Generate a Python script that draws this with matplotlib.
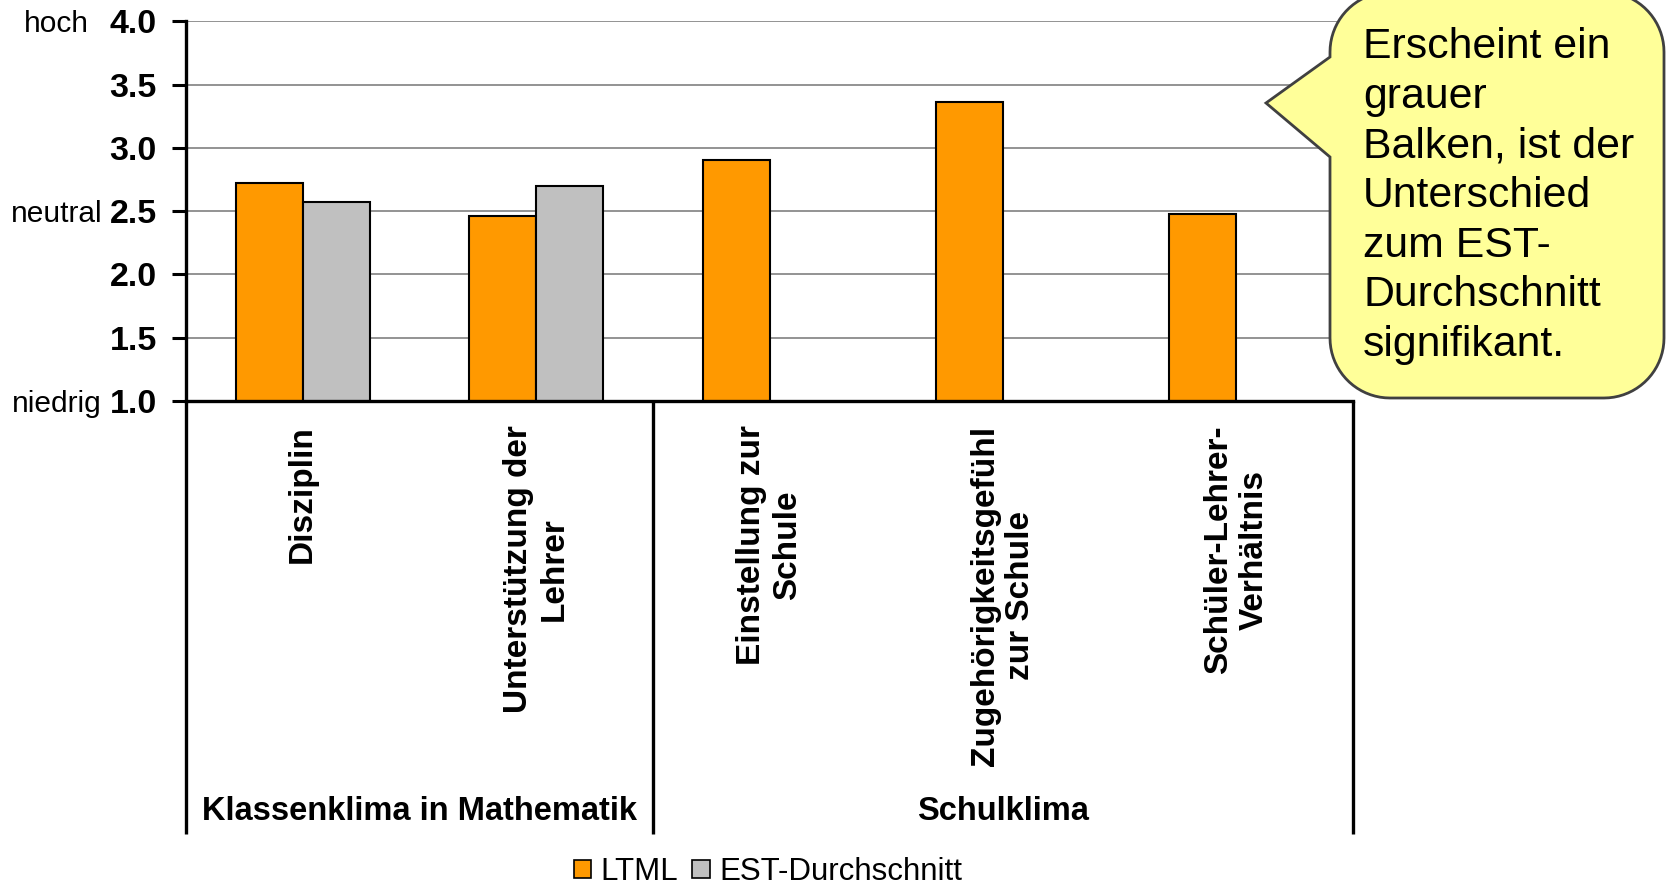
import numpy as np
import matplotlib
matplotlib.use("Agg")
import matplotlib.pyplot as plt
from matplotlib.patches import Polygon, Patch
import matplotlib.transforms as mtransforms

plt.rcParams['font.family'] = ['Liberation Sans', 'DejaVu Sans']

# ---- data ----
categories = ["Disziplin", "Unterstützung der\nLehrer", "Einstellung zur\nSchule",
              "Zugehörigkeitsgefühl\nzur Schule", "Schüler-Lehrer-\nVerhältnis"]
groups = ["Klassenklima in Mathematik", "Schulklima"]
group_sizes = [2, 3]
ltml = [2.72, 2.46, 2.90, 3.36, 2.48]
est = [2.57, 2.70, np.nan, np.nan, np.nan]
series_names = ["LTML", "EST-Durchschnitt"]
yticks = [1.0, 1.5, 2.0, 2.5, 3.0, 3.5, 4.0]
side_labels = {4.0: "hoch", 2.5: "neutral", 1.0: "niedrig"}
callout_text = "Erscheint ein\ngrauer\nBalken, ist der\nUnterschied\nzum EST-\nDurchschnitt\nsignifikant."

W, H = 1667, 888
fig = plt.figure(figsize=(W / 100, H / 100), dpi=100)
ax = fig.add_axes([186 / W, 1 - 400.8 / H, (1353 - 186) / W, (400.8 - 21.3) / H])

c_orange = "#FF9900"
c_gray = "#C0C0C0"
x = np.arange(len(categories)) + 0.5
w = 0.287
ax.bar(x - w / 2, ltml, width=w, color=c_orange, edgecolor="black", linewidth=1.5, zorder=3)
ax.bar(x + w / 2, est, width=w, color=c_gray, edgecolor="black", linewidth=1.5, zorder=3)

ax.set_xlim(0, len(categories))
ax.set_ylim(1, 4)
ax.set_yticks(yticks)
ax.set_yticklabels([f"{v:.1f}" for v in yticks], fontsize=24.5, fontweight="bold")
ax.tick_params(axis="y", length=10, width=2.2, pad=11)
ax.set_xticks([])
for v in yticks[1:]:
    ax.axhline(v, color="#808080", lw=1.2, zorder=1)
for s in ["top", "right"]:
    ax.spines[s].set_visible(False)
for s in ["left", "bottom"]:
    ax.spines[s].set_linewidth(2.4)
    ax.spines[s].set_zorder(4)

# side labels
tr_side = mtransforms.blended_transform_factory(fig.transFigure, ax.transData)
for v, lab in side_labels.items():
    ax.text(56.5 / W, v, lab, transform=tr_side, ha="center", va="center_baseline", fontsize=21.5)

# category labels
tr = mtransforms.blended_transform_factory(ax.transData, ax.transAxes)
for xi, lab in zip(x, categories):
    ax.text(xi, -0.065, lab, transform=tr, rotation=90, ha="center", va="top",
            multialignment="center", fontsize=24, fontweight="bold")

# group separators & labels
bottom_frac = -(834 - 400.8) / (400.8 - 21.3)
label_frac = -(811 - 400.8) / (400.8 - 21.3)
edges = np.concatenate([[0], np.cumsum(group_sizes)])
for e in edges:
    ax.plot([e, e], [0, bottom_frac], transform=tr, color="black", lw=2.4, clip_on=False,
            solid_capstyle="butt", zorder=4)
for i, g in enumerate(groups):
    ax.text((edges[i] + edges[i + 1]) / 2, label_frac, g, transform=tr, ha="center",
            va="center", fontsize=23.5, fontweight="bold")

# legend
handles = [Patch(facecolor=c_orange, edgecolor="black", lw=1.2),
           Patch(facecolor=c_gray, edgecolor="black", lw=1.2)]
fig.legend(handles, series_names, loc="center", bbox_to_anchor=(768 / W, 1 - 872 / H), ncol=2,
           frameon=False, fontsize=22.5, handlelength=0.55, handleheight=0.55,
           handletextpad=0.3, columnspacing=0.45, borderpad=0.1)

# callout
r = 60
L, R, T, B = 1330, 1664, -8, 398
pts = []
def arc(cx, cy, a0, a1):
    for a in np.linspace(np.radians(a0), np.radians(a1), 20):
        pts.append((cx + r * np.cos(a), cy + r * np.sin(a)))
arc(L + r, T + r, 180, 270)
arc(R - r, T + r, 270, 360)
arc(R - r, B - r, 0, 90)
arc(L + r, B - r, 90, 180)
pts += [(L, 157), (1266, 103), (L, 57)]
pts = np.array(pts)
poly = Polygon(np.column_stack([pts[:, 0] / W, 1 - pts[:, 1] / H]), closed=True,
               transform=fig.transFigure, facecolor="#FFFF99", edgecolor="#404040", lw=2, zorder=10)
fig.patches.append(poly)
fig.text(1363 / W, 1 - 196 / H, callout_text, ha="left", va="center", fontsize=30.8,
         linespacing=1.31, zorder=11)

fig.savefig("out.png", dpi=100)
